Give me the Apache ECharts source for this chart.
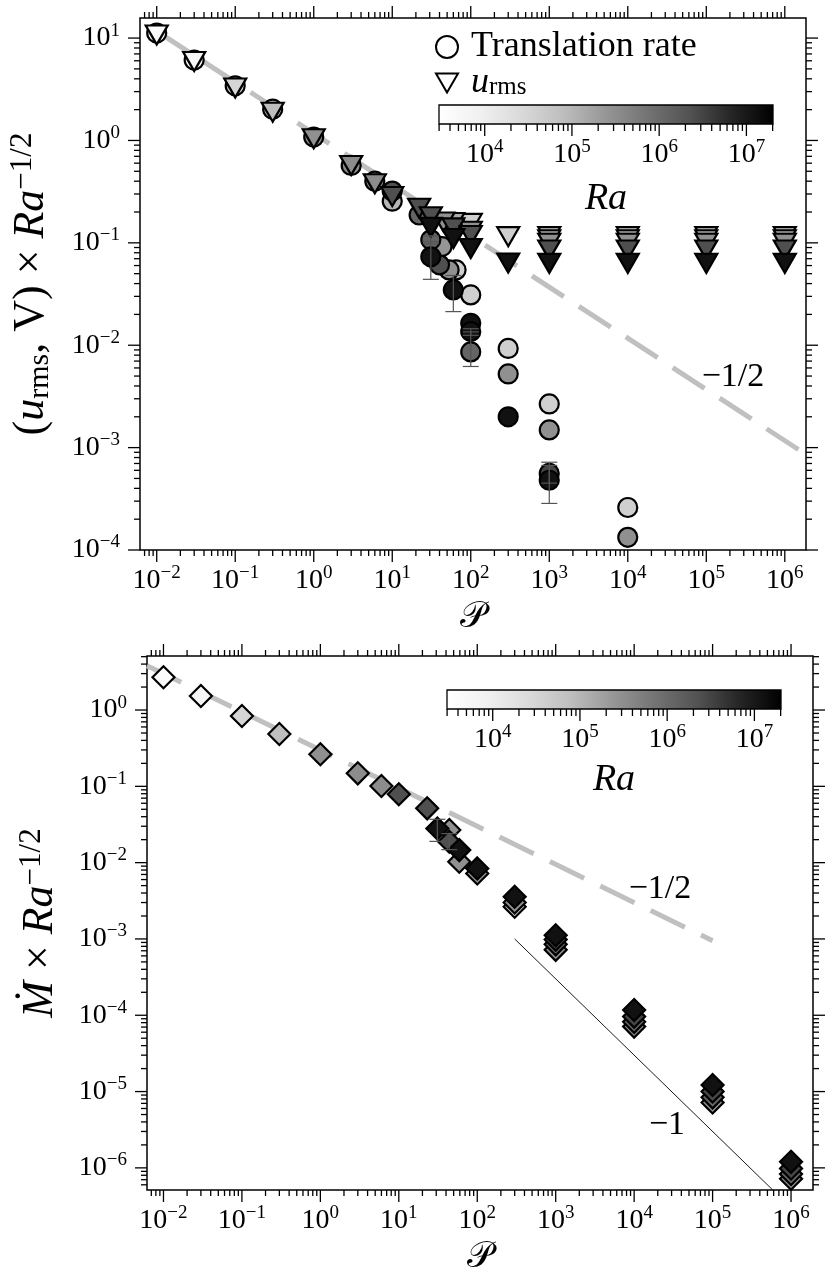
<!DOCTYPE html>
<html><head><meta charset="utf-8">
<script src="https://cdn.jsdelivr.net/npm/echarts@6/dist/echarts.min.js"></script>
<style>html,body{margin:0;padding:0;background:#fff}#c{width:830px;height:1281px}</style>
</head><body><div id="c"></div>
<script>
// ---------------- DATA ----------------
// Top panel: translation rate V (circles)
const transP  = [0.01, 0.03, 0.1, 0.3, 1, 3, 6, 10, 10, 22, 31, 43, 31, 40, 53, 65, 60, 100, 100, 100, 100, 300, 300, 300, 1000, 1000, 1000, 1000, 1e4, 1e4];
const transV  = [11.2, 6.1, 3.42, 2.02, 1.08, 0.57, 0.40, 0.32, 0.255, 0.187, 0.107, 0.092, 0.073, 0.061, 0.0544, 0.0544, 0.0347, 0.031, 0.0164, 0.0136, 0.0086, 0.0093, 0.00524, 0.0020, 0.00267, 0.00149, 0.00056, 0.00048, 0.00026, 0.000133];
const transRa = [4e3, 6e3, 3e4, 8e4, 3e5, 3.4e5, 3.4e5, 2.4e6, 1e5, 1.2e6, 1.2e6, 2.5e5, 1.2e7, 2.4e6, 3e5, 4e4, 1.2e7, 4e4, 1.2e7, 1.2e7, 1.2e6, 4e4, 3e5, 1.2e7, 4e4, 3e5, 3e6, 1.2e7, 4e4, 3e5];
// error bars on translation rate
const errP  = [31, 31, 60, 100, 100, 1000, 1000];
const errLo = [0.044, 0.098, 0.0213, 0.0062, 0.0125, 0.000285, 0.00045];
const errHi = [0.103, 0.117, 0.048, 0.0135, 0.0145, 0.00072, 0.00067];
// Top panel: u_rms (triangles)
const urmsP  = [0.01, 0.03, 0.1, 0.3, 1, 3, 6, 10, 22, 31, 31, 45, 60, 60, 60, 100, 100, 100, 100, 300, 300,
                1e3, 1e3, 1e3, 1e3, 1e3, 1e4, 1e4, 1e4, 1e4, 1e4, 1e5, 1e5, 1e5, 1e5, 1e5, 1e6, 1e6, 1e6, 1e6, 1e6];
const urmsV  = [10.7, 5.9, 3.25, 1.89, 1.04, 0.57, 0.377, 0.283, 0.218, 0.18, 0.142, 0.16, 0.158, 0.14, 0.11, 0.155, 0.13, 0.118, 0.088, 0.115, 0.0635,
                0.115, 0.107, 0.099, 0.085, 0.063, 0.115, 0.107, 0.099, 0.085, 0.063, 0.115, 0.107, 0.099, 0.085, 0.063, 0.115, 0.107, 0.099, 0.085, 0.063];
const urmsRa = [4e3, 6e3, 3e4, 8e4, 3e5, 3.4e5, 3.4e5, 2.4e6, 2.4e6, 2.4e6, 1.2e7, 3e5, 1.4e5, 2.4e6, 1.2e7, 4e4, 3e5, 2.4e6, 1.2e7, 4e4, 1.2e7,
                4e4, 1.4e5, 3e5, 2.4e6, 1.2e7, 4e4, 1.4e5, 3e5, 2.4e6, 1.2e7, 4e4, 1.4e5, 3e5, 2.4e6, 1.2e7, 4e4, 1.4e5, 3e5, 2.4e6, 1.2e7];
// Bottom panel: Mdot (diamonds)
const mdotP  = [0.01, 0.03, 0.1, 0.3, 1, 3, 6, 10, 23, 44, 31, 44, 59, 59, 100, 100, 300, 300, 300,
                1e3, 1e3, 1e3, 1e3, 1e4, 1e4, 1e4, 1e4, 1e5, 1e5, 1e5, 1e5, 1e6, 1e6, 1e6, 1e6];
const mdotV  = [2.69, 1.53, 0.835, 0.485, 0.263, 0.148, 0.101, 0.0786, 0.0515, 0.0268, 0.028, 0.0188, 0.0146, 0.0103, 0.0084, 0.0072, 0.00264, 0.0030, 0.00357,
                0.00072, 0.00085, 0.00098, 0.00112, 7.1e-5, 8.2e-5, 9.6e-5, 1.17e-4, 7.2e-6, 8.4e-6, 1.0e-5, 1.22e-5, 7.2e-7, 8.3e-7, 9.8e-7, 1.2e-6];
const mdotRa = [4e3, 6e3, 3e4, 8e4, 3e5, 3.4e5, 3.4e5, 2.4e6, 2.4e6, 3e5, 1.2e7, 2.4e6, 1.2e7, 3e5, 1.2e7, 3e5, 4e4, 3e5, 1.2e7,
                3e5, 1.2e6, 3e6, 1.2e7, 3e5, 1.2e6, 3e6, 1.2e7, 3e5, 1.2e6, 3e6, 1.2e7, 3e5, 1.2e6, 3e6, 1.2e7];
const mErrP = [31, 44];
const mErrLo = [0.019, 0.0148];
const mErrHi = [0.037, 0.024];
// reference power laws
const topFitP = [0.01, 1.6e6];      const topFitV = [11.7, 0.000925];
const botFitP = [0.00617, 1e5];     const botFitV = [3.81, 0.00095];
const botSteepP = [300, 5.8e5];     const botSteepV = [1e-3, 5.17e-7];
// axis ranges (log10)
const topX = [-2.213, 6.27], topY = [-4, 1.196];
const botX = [-2.21, 6.28],  botY = [-6.29, 0.708];
const raRange = [3.476, 7.305];
// tick definitions
const decades = [-7, -6, -5, -4, -3, -2, -1, 0, 1, 2, 3, 4, 5, 6, 7];
const minorSteps = [2, 3, 4, 5, 6, 7, 8, 9];

// ---------------- HELPERS ----------------
const F = "'Liberation Serif','DejaVu Serif',serif";
const greyStops = [255, 240, 217, 189, 150, 115, 82, 37, 0];
function cmap(t) {
  t = Math.max(0, Math.min(1, t));
  const p = t * 8, i = Math.min(7, Math.floor(p)), f = p - i;
  const g = Math.round(greyStops[i] + (greyStops[i + 1] - greyStops[i]) * f);
  return 'rgb(' + g + ',' + g + ',' + g + ')';
}
function raColor(ra) { return cmap((Math.log10(ra) - raRange[0]) / (raRange[1] - raRange[0])); }
function pts(P, V, R) {
  return P.map((p, i) => [p, V[i], R[i]]).sort((a, b) => a[2] - b[2]);
}
function tickValues(lo, hi) {
  const major = [], minor = [];
  decades.forEach(d => {
    if (d >= lo - 1e-9 && d <= hi + 1e-9) major.push(Math.pow(10, d));
    minorSteps.forEach(m => { const w = m * Math.pow(10, d), l = Math.log10(w); if (l > lo && l < hi) minor.push(w); });
  });
  return { major, minor };
}
function powLabel(v) {
  const l = Math.log10(v), e = Math.round(l);
  if (Math.abs(l - e) > 1e-6) return '';
  return '{b|10}{s|' + (e < 0 ? '\u2212' : '') + Math.abs(e) + '}';
}
const tickRich = {
  b: { fontFamily: F, fontSize: 28, lineHeight: 34, color: '#000' },
  s: { fontFamily: F, fontSize: 19, lineHeight: 19, verticalAlign: 'top', color: '#000' }
};
const titleRich = {
  n: { fontFamily: F, fontSize: 44, lineHeight: 48, color: '#000' },
  i: { fontFamily: F, fontSize: 44, lineHeight: 48, fontStyle: 'italic', color: '#000' },
  sub: { fontFamily: F, fontSize: 30, lineHeight: 30, verticalAlign: 'bottom', color: '#000' },
  sup: { fontFamily: F, fontSize: 31, lineHeight: 31, verticalAlign: 'top', color: '#000' }
};
const L = (x1, y1, x2, y2, w, c) => ({ type: 'line', shape: { x1, y1, x2, y2 }, style: { stroke: c || '#000', lineWidth: w || 1.3 } });

function frameTicks(idx, xr, yr, majLen, minLen, allSides) {
  return {
    type: 'custom', xAxisIndex: idx, yAxisIndex: idx, silent: true, clip: false, z: 6,
    data: [[Math.pow(10, (xr[0] + xr[1]) / 2), yr ? Math.pow(10, (yr[0] + yr[1]) / 2) : 0.5]],
    renderItem: (params, api) => {
      const cs = params.coordSys, ch = [];
      const yRef = yr ? Math.pow(10, yr[0]) : 0.5;
      const xt = tickValues(xr[0], xr[1]);
      [[xt.major, majLen], [xt.minor, minLen]].forEach(([vals, len]) => vals.forEach(v => {
        const px = api.coord([v, yRef])[0];
        ch.push(L(px, cs.y + cs.height, px, cs.y + cs.height + len));
        if (allSides) ch.push(L(px, cs.y, px, cs.y - len));
      }));
      if (yr) {
        const yt = tickValues(yr[0], yr[1]), xRef = Math.pow(10, xr[0]);
        [[yt.major, majLen], [yt.minor, minLen]].forEach(([vals, len]) => vals.forEach(v => {
          const py = api.coord([xRef, v])[1];
          ch.push(L(cs.x, py, cs.x - len, py));
          ch.push(L(cs.x + cs.width, py, cs.x + cs.width + len, py));
        }));
      }
      return { type: 'group', children: ch };
    }
  };
}
function errorBars(idx, P, lo, hi) {
  return {
    type: 'custom', xAxisIndex: idx, yAxisIndex: idx, silent: true, z: 4,
    data: P.map((p, i) => [p, lo[i], hi[i]]),
    encode: { x: 0, y: [1, 2] },
    renderItem: (params, api) => {
      const p = api.value(0);
      const a = api.coord([p, api.value(1)]), b = api.coord([p, api.value(2)]);
      const hw = 8, c = '#555';
      return { type: 'group', children: [L(a[0], a[1], b[0], b[1], 1.2, c), L(a[0] - hw, a[1], a[0] + hw, a[1], 1.2, c), L(b[0] - hw, b[1], b[0] + hw, b[1], 1.2, c)] };
    }
  };
}
function colorbar(idx) {
  return {
    type: 'custom', xAxisIndex: idx, yAxisIndex: idx, silent: true, z: 3,
    data: [[Math.pow(10, 5), 0.5]],
    renderItem: (params) => {
      const cs = params.coordSys;
      const stops = greyStops.map((g, i) => ({ offset: i / 8, color: 'rgb(' + g + ',' + g + ',' + g + ')' }));
      return { type: 'rect', shape: { x: cs.x, y: cs.y, width: cs.width, height: cs.height },
        style: { fill: new echarts.graphic.LinearGradient(0, 0, 1, 0, stops), stroke: '#000', lineWidth: 1.3 } };
    }
  };
}
const markerStyle = { color: p => raColor(p.value[2]), borderColor: '#000', borderWidth: 2.2, opacity: 1 };

function logX(idx, r, name) {
  return {
    type: 'log', logBase: 10, gridIndex: idx, min: Math.pow(10, r[0]), max: Math.pow(10, r[1]), splitNumber: 10,
    axisLine: { show: false }, axisTick: { show: false }, splitLine: { show: false }, minorTick: { show: false },
    axisLabel: { formatter: powLabel, rich: tickRich, margin: 14, color: '#000' },
    name: name, nameLocation: 'middle', nameGap: 50,
    nameTextStyle: { fontFamily: "'DejaVu Sans','Liberation Serif',serif", fontSize: 36, color: '#000' }
  };
}
function logY(idx, r, name, gap) {
  return {
    type: 'log', logBase: 10, gridIndex: idx, min: Math.pow(10, r[0]), max: Math.pow(10, r[1]), splitNumber: 10,
    axisLine: { show: false }, axisTick: { show: false }, splitLine: { show: false }, minorTick: { show: false },
    axisLabel: { formatter: powLabel, rich: tickRich, margin: 20, color: '#000' },
    name: name, nameLocation: 'middle', nameRotate: 90, nameGap: gap,
    nameTextStyle: { rich: titleRich, fontFamily: F, fontSize: 44, color: '#000' }
  };
}
function cbX(idx, gap) {
  return {
    type: 'log', logBase: 10, gridIndex: idx, min: Math.pow(10, raRange[0]), max: Math.pow(10, raRange[1]), splitNumber: 10,
    axisLine: { show: false }, axisTick: { show: false }, splitLine: { show: false },
    axisLabel: { formatter: powLabel, rich: tickRich, margin: 14, color: '#000' },
    name: 'Ra', nameLocation: 'middle', nameGap: gap,
    nameTextStyle: { fontFamily: F, fontSize: 38, fontStyle: 'italic', color: '#000' }
  };
}
const gridBase = { show: true, borderColor: '#000', borderWidth: 1.5, backgroundColor: 'transparent', containLabel: false, outerBoundsMode: 'none' };

const option = {
  animation: false,
  backgroundColor: '#fff',
  grid: [
    Object.assign({ left: 140, top: 18, width: 666, height: 532 }, gridBase),
    Object.assign({ left: 147, top: 656, width: 666, height: 534 }, gridBase),
    Object.assign({ left: 439, top: 105, width: 334, height: 19 }, gridBase, { show: false }),
    Object.assign({ left: 447, top: 690, width: 334, height: 19 }, gridBase, { show: false })
  ],
  xAxis: [logX(0, topX, '\uD835\uDCAB'), logX(1, botX, '\uD835\uDCAB'), cbX(2, 56), cbX(3, 52)],
  yAxis: [
    logY(0, topY, '{n|(}{i|u}{sub|rms}{n|, V) \u00D7 }{i|Ra}{sup|\u22121/2}', 85),
    logY(1, botY, '{i|\u1E40}{n| \u00D7 }{i|Ra}{sup|\u22121/2}', 83),
    { type: 'value', gridIndex: 2, min: 0, max: 1, show: false },
    { type: 'value', gridIndex: 3, min: 0, max: 1, show: false }
  ],
  legend: {
    orient: 'vertical', left: 435, top: 29, itemWidth: 22, itemHeight: 22, itemGap: 0, selectedMode: false, padding: 0,
    data: [
      { name: 'Translation rate', icon: 'circle', itemStyle: { color: '#fff', borderColor: '#000', borderWidth: 2, opacity: 1 } },
      { name: 'u_rms', icon: 'path://M0,0L22,0L11,19Z', itemStyle: { color: '#fff', borderColor: '#000', borderWidth: 2, opacity: 1 } }
    ],
    formatter: n => n === 'u_rms' ? '{i|u}{sub|rms}' : '{n|' + n + '}',
    textStyle: {
      lineHeight: 34,
      rich: {
        n: { fontFamily: F, fontSize: 36, lineHeight: 34, color: '#000', padding: [0, 0, 0, 8] },
        i: { fontFamily: F, fontSize: 36, lineHeight: 34, fontStyle: 'italic', color: '#000', padding: [0, 0, 0, 8] },
        sub: { fontFamily: F, fontSize: 25, lineHeight: 25, verticalAlign: 'bottom', color: '#000' }
      }
    }
  },
  graphic: [
    { type: 'text', x: 733, y: 377, style: { text: '\u22121/2', fontFamily: F, fontSize: 34, fill: '#000', align: 'center', verticalAlign: 'middle' } },
    { type: 'text', x: 660, y: 889, style: { text: '\u22121/2', fontFamily: F, fontSize: 34, fill: '#000', align: 'center', verticalAlign: 'middle' } },
    { type: 'text', x: 667, y: 1125, style: { text: '\u22121', fontFamily: F, fontSize: 34, fill: '#000', align: 'center', verticalAlign: 'middle' } }
  ],
  series: [
    { type: 'line', xAxisIndex: 0, yAxisIndex: 0, data: topFitP.map((p, i) => [p, topFitV[i]]), symbol: 'none', silent: true, z: 1,
      lineStyle: { color: '#c0c0c0', width: 5, type: [38, 18] } },
    { type: 'line', xAxisIndex: 1, yAxisIndex: 1, data: botFitP.map((p, i) => [p, botFitV[i]]), symbol: 'none', silent: true, z: 1,
      lineStyle: { color: '#c0c0c0', width: 5, type: [38, 18] } },
    { type: 'line', xAxisIndex: 1, yAxisIndex: 1, data: botSteepP.map((p, i) => [p, botSteepV[i]]), symbol: 'none', silent: true, z: 1,
      lineStyle: { color: '#000', width: 0.9 } },
    { name: 'Translation rate', type: 'scatter', xAxisIndex: 0, yAxisIndex: 0, data: pts(transP, transV, transRa),
      symbol: 'circle', symbolSize: 19, itemStyle: markerStyle, z: 2 },
    errorBars(0, errP, errLo, errHi),
    { name: 'u_rms', type: 'scatter', xAxisIndex: 0, yAxisIndex: 0, data: pts(urmsP, urmsV, urmsRa),
      symbol: 'triangle', symbolRotate: 180, symbolSize: [22, 19], itemStyle: markerStyle, z: 3 },
    { name: 'Mdot', type: 'scatter', xAxisIndex: 1, yAxisIndex: 1, data: pts(mdotP, mdotV, mdotRa),
      symbol: 'diamond', symbolSize: [22, 22], itemStyle: markerStyle, z: 2 },
    errorBars(1, mErrP, mErrLo, mErrHi),
    frameTicks(0, topX, topY, 12, 6, true),
    frameTicks(1, botX, botY, 12, 6, true),
    colorbar(2), colorbar(3),
    frameTicks(2, raRange, null, 12, 7, false),
    frameTicks(3, raRange, null, 12, 7, false)
  ]
};
const chart = echarts.init(document.getElementById('c'), null, { renderer: 'canvas', width: 830, height: 1281 });
chart.setOption(option);
</script></body></html>
